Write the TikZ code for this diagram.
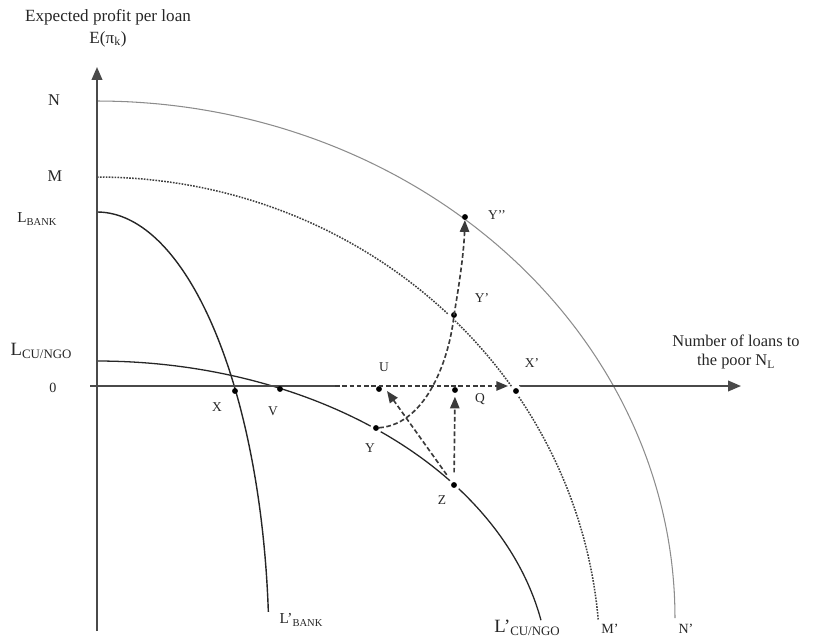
\documentclass[tikz,border=0pt]{standalone}
\usepackage{fontspec}
\setmainfont{Liberation Serif}
\usetikzlibrary{arrows.meta}
\definecolor{axiscol}{HTML}{4A4A4A}
\definecolor{ncol}{HTML}{8C8C8C}
\definecolor{mcol}{HTML}{3F3F3F}
\definecolor{lcol}{HTML}{262626}
\definecolor{dashcol}{HTML}{3A3A3A}
\definecolor{txtcol}{HTML}{262626}
\newcommand{\lowsub}[2]{\raisebox{-0.35ex}{\fontsize{#1}{#1}\selectfont #2}}
\begin{document}
\begin{tikzpicture}[x=0.03cm, y=-0.03cm,
  every node/.style={text=txtcol, inner sep=0pt},
  axisline/.style={draw=axiscol, line width=1.6pt},
  axisarrow/.style={axisline, -{Triangle[length=11pt,width=9pt]}},
  dotpt/.style={circle, fill=black, inner sep=0pt, minimum size=5pt},
  halodot/.style={dotpt, preaction={draw=white, line width=5pt}},
  dasharrow/.style={draw=dashcol, line width=1.4pt, dash pattern=on 4pt off 2.2pt, -{Triangle[length=10pt,width=8pt]}},
  ptlabel/.style={font=\fontsize{11.5}{13}\selectfont},
  axlabel/.style={font=\fontsize{14}{16}\selectfont},
  biglabel/.style={align=center},
]
\useasboundingbox (0,0) rectangle (815,640);

% curves
\draw[ncol, line width=0.9pt] plot[domain=90:0, samples=120] ({97+578*cos(\x)}, {618-517*sin(\x)});
\draw[mcol, line width=1.3pt, dash pattern=on 1.4pt off 1.1pt] plot[domain=90:4.75, samples=120] ({97+503*cos(\x)}, {660-483*sin(\x)});
\draw[lcol, line width=1.2pt] plot[domain=90:5, samples=120] ({97+172*cos(\x)}, {650-438*sin(\x)});
\draw[lcol, line width=1.1pt] plot[domain=90:10.8, samples=120] ({97+452*cos(\x)}, {680-319*sin(\x)});

% axes
\coordinate (xstart) at (90,386);
\coordinate (dashstart) at (335,386);
\coordinate (xresume) at (519,386);
\coordinate (xend) at (741,386);
\coordinate (ybot) at (97,631);
\coordinate (ytop) at (97,67);
\draw[axisarrow] (ybot) -- (ytop);
\draw[axisline] (xstart) -- (dashstart);
\draw[axisarrow] (xresume) -- (xend);

% points
\node[dotpt] (X) at (235,391) {};
\node[dotpt] (V) at (280,389) {};
\node[dotpt] (U) at (379,389) {};
\node[dotpt] (Q) at (455,390) {};
\node[halodot] (Xp) at (516,391) {};
\node[halodot] (Y) at (376,428) {};
\node[halodot] (Z) at (454,485) {};
\node[halodot] (Yp) at (454,315) {};
\node[dotpt] (Ypp) at (465,217) {};

% dashed arrows
\coordinate (xtip) at (508,386);
\coordinate (Utip) at (387,391);
\draw[dasharrow] (dashstart) -- (xtip);
\draw[dasharrow, shorten <=8pt, shorten >=3pt] (Z) -- (Q);
\draw[dasharrow, shorten <=8pt] (Z) -- (Utip);
\draw[dasharrow] (Y) .. controls (428,424) and (450,355) .. (Yp.center) .. controls (460,280) and (464,250) .. (Ypp);

% axis labels
\node[biglabel, font=\fontsize{14.6}{19}\selectfont] (ylab) at (108,28) {Expected profit per loan\\E(π\textsubscript{k})};
\node[biglabel, font=\fontsize{14}{17}\selectfont] (xlab) at (736,352) {Number of loans to\\the poor N\textsubscript{L}};

% curve labels
\node[axlabel] (Nlab) at (54,100) {N};
\node[axlabel] (Mlab) at (55,176) {M};
\node[font=\fontsize{13}{15}\selectfont] (LBlab) at (37,219) {L\lowsub{9}{BANK}};
\node[font=\fontsize{16}{18}\selectfont] (LClab) at (41,351) {L\lowsub{11}{CU/NGO}};
\node[font=\fontsize{12}{14}\selectfont] (zerolab) at (53,388) {0};
\node[font=\fontsize{13}{15}\selectfont] (LBplab) at (301,620) {L’\lowsub{9}{BANK}};
\node[font=\fontsize{16}{18}\selectfont] (LCplab) at (527,628) {L’\lowsub{11}{CU/NGO}};
\node[font=\fontsize{12}{14}\selectfont] (Mplab) at (610,629) {M’};
\node[font=\fontsize{12}{14}\selectfont] (Nplab) at (686,629) {N’};

% point labels
\node[ptlabel] (Xlab) at (217,407) {X};
\node[ptlabel] (Vlab) at (273,411) {V};
\node[ptlabel] (Ulab) at (384,367) {U};
\node[ptlabel] (Qlab) at (480,399) {Q};
\node[ptlabel] (Xplab) at (532,363) {X’};
\node[ptlabel] (Ylab) at (370,448) {Y};
\node[ptlabel] (Zlab) at (442,500) {Z};
\node[ptlabel] (Yplab) at (482,298) {Y’};
\node[ptlabel] (Ypplab) at (497,215) {Y’’};
\end{tikzpicture}
\end{document}
